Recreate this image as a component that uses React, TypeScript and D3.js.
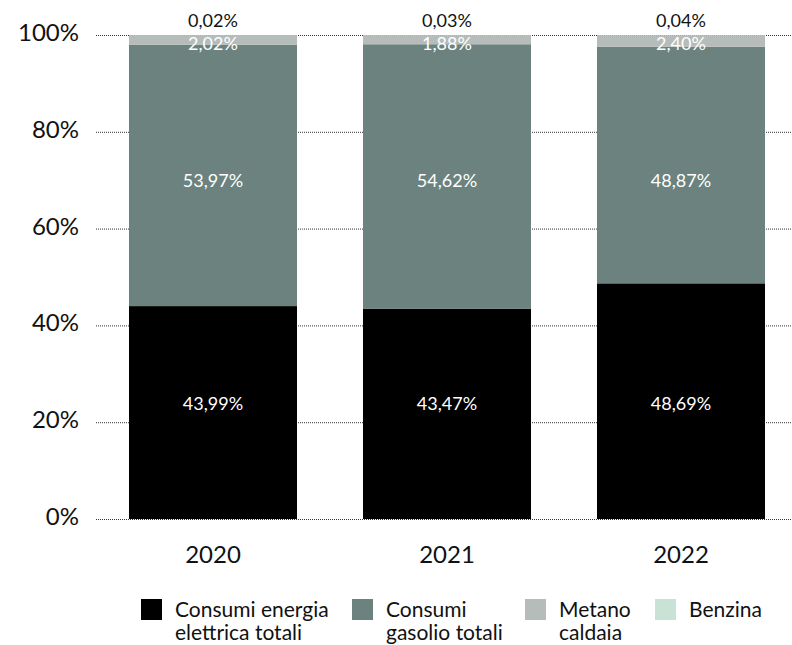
import React from "react";
import * as d3 from "d3";

const years = ["2020", "2021", "2022"];
const seriesNames = ["Consumi energia elettrica totali", "Consumi gasolio totali", "Metano caldaia", "Benzina"];
const legendLines = [["Consumi energia", "elettrica totali"], ["Consumi", "gasolio totali"], ["Metano", "caldaia"], ["Benzina"]];
const elettrica = [43.99, 43.47, 48.69];
const gasolio = [53.97, 54.62, 48.87];
const metano = [2.02, 1.88, 2.40];
const benzina = [0.02, 0.03, 0.04];
const colors = ["#000000", "#6b827e", "#b5bcb9", "#c8e3d6"];
const yTicks = [0, 20, 40, 60, 80, 100];
const labelAnchors = [23.5, 69.6];

const W = 792;
const H = 645;
const fmt = (v: number) => v.toFixed(2).replace(".", ",") + "%";

export default function App() {
  const x = d3.scaleBand<string>().domain(years).range([96, 798]).paddingInner(0.282).paddingOuter(0.141);
  const y = d3.scaleLinear().domain([0, 100]).range([519, 35]);
  const rows = years.map((yr, i) => ({ year: yr, e: elettrica[i], g: gasolio[i], m: metano[i], b: benzina[i] }));
  const stack = d3.stack<any>().keys(["e", "g", "m", "b"]);
  const layers = stack(rows);
  const font = "Lato, 'Noto Sans', sans-serif";

  return (
    <svg width={W} height={H} style={{ position: "absolute", left: 0, top: 0 }} fontFamily={font}>
      <rect width={W} height={H} fill="#fff" />
      {yTicks.map((t) => (
        <g key={t}>
          <line x1={96} x2={W} y1={y(t) + 0.5} y2={y(t) + 0.5} stroke="#333" strokeWidth={1} strokeDasharray="1,1" />
          <text x={79} y={y(t)} textAnchor="end" dominantBaseline="middle" fontSize={24} fill="#111">
            {t}%
          </text>
        </g>
      ))}
      {layers.map((layer, li) => (
        <g key={li} fill={colors[li]}>
          {layer.map((d, i) => (
            <rect key={i} x={x(years[i])} width={x.bandwidth()} y={y(d[1])} height={y(d[0]) - y(d[1])} />
          ))}
        </g>
      ))}
      {years.map((yr, i) => {
        const cx = (x(yr) as number) + x.bandwidth() / 2;
        return (
          <g key={yr} textAnchor="middle" fontSize={18}>
            <text x={cx} y={y(labelAnchors[0])} dominantBaseline="middle" fill="#fff">{fmt(elettrica[i])}</text>
            <text x={cx} y={y(labelAnchors[1])} dominantBaseline="middle" fill="#fff">{fmt(gasolio[i])}</text>
            <text x={cx} y={y(100) + 10} dominantBaseline="middle" fill="#fff">{fmt(metano[i])}</text>
            <text x={cx} y={y(100) - 13} dominantBaseline="middle" fill="#111">{fmt(benzina[i])}</text>
            <text x={cx} y={y(0) + 38} dominantBaseline="middle" fontSize={24} fill="#111">{yr}</text>
          </g>
        );
      })}
      {seriesNames.map((n, i) => {
        const sx = [141, 352, 525, 655][i];
        return (
          <g key={n}>
            <rect x={sx} y={599} width={21} height={21} fill={colors[i]} />
            <text x={sx + 34} y={617} fontSize={21} fill="#111">
              {legendLines[i].map((l, j) => (
                <tspan key={j} x={sx + 34} dy={j === 0 ? 0 : 23}>{l}</tspan>
              ))}
            </text>
          </g>
        );
      })}
    </svg>
  );
}
